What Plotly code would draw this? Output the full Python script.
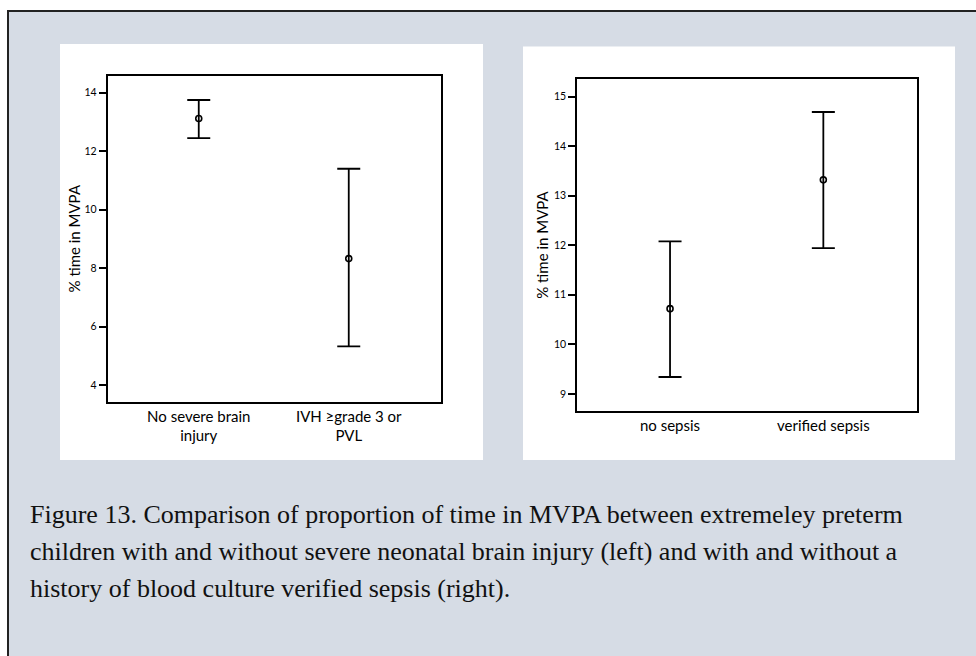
import plotly.graph_objects as go

W, H = 976, 656

# ---- data ----
left_categories = ["No severe brain<br>injury", "IVH ≥grade 3 or<br>PVL"]
left_mean = [13.12, 8.33]
left_upper = [13.75, 11.40]
left_lower = [12.45, 5.33]

right_categories = ["no sepsis", "verified sepsis"]
right_mean = [10.72, 13.32]
right_upper = [12.08, 14.69]
right_lower = [9.34, 11.94]

left_ticks = [4, 6, 8, 10, 12, 14]
right_ticks = [9, 10, 11, 12, 13, 14, 15]

y_title = "% time in MVPA"
caption_lines = [
    "Figure 13. Comparison of proportion of time in MVPA between extremeley preterm",
    "children with and without severe neonatal brain injury (left) and with and without a",
    "history of blood culture verified sepsis (right).",
]

FONT = "Lato"
BG = "#d6dce5"


def fx(p):
    return p / W


def fy(p):
    return 1 - p / H


fig = go.Figure()

for cats, mean, up, lo, xa, ya in [
    (left_categories, left_mean, left_upper, left_lower, "x", "y"),
    (right_categories, right_mean, right_upper, right_lower, "x2", "y2"),
]:
    fig.add_trace(go.Scatter(
        x=list(range(len(cats))), y=mean, xaxis=xa, yaxis=ya,
        mode="markers",
        marker=dict(symbol="circle-open", size=6, color="black",
                    line=dict(width=1.6, color="black")),
        error_y=dict(type="data", symmetric=False,
                     array=[u - m for u, m in zip(up, mean)],
                     arrayminus=[m - l for m, l in zip(mean, lo)],
                     color="black", thickness=1.8, width=11.5),
        showlegend=False, hoverinfo="skip",
    ))

axis_common = dict(showline=True, mirror=True, linecolor="black", linewidth=2,
                   showgrid=False, zeroline=False)

fig.update_layout(
    width=W, height=H, autosize=False,
    margin=dict(l=0, r=0, t=0, b=0),
    paper_bgcolor="white", plot_bgcolor="white",
    font=dict(family=FONT, color="black"),
    xaxis=dict(domain=[fx(107.7), fx(441)], range=[-0.607, 1.615],
               tickmode="array", tickvals=[0, 1], ticktext=left_categories,
               ticks="", tickfont=dict(size=15), anchor="y", **axis_common),
    yaxis=dict(domain=[fy(401.7), fy(75.7)], range=[3.44, 14.58],
               tickmode="array", tickvals=left_ticks,
               ticks="outside", ticklen=7, tickwidth=1.5, tickcolor="black",
               tickfont=dict(size=10.5), anchor="x",
               title=dict(text=y_title, font=dict(size=15), standoff=0),
               **axis_common),
    xaxis2=dict(domain=[fx(577.3), fx(916.7)], range=[-0.605, 1.609],
                tickmode="array", tickvals=[0, 1], ticktext=right_categories,
                ticks="", tickfont=dict(size=15), anchor="y2", **axis_common),
    yaxis2=dict(domain=[fy(410.7), fy(79.3)], range=[8.66, 15.35],
                tickmode="array", tickvals=right_ticks,
                ticks="outside", ticklen=7, tickwidth=1.5, tickcolor="black",
                tickfont=dict(size=10.5), anchor="x2",
                title=dict(text=y_title, font=dict(size=15), standoff=2),
                **axis_common),
)

shapes = [
    # outer framed background
    dict(type="rect", xref="paper", yref="paper", layer="below",
         x0=fx(8), x1=fx(990), y0=fy(670), y1=fy(11),
         fillcolor=BG, line=dict(color="#222222", width=2)),
    # white panels
    dict(type="rect", xref="paper", yref="paper", layer="below",
         x0=fx(60), x1=fx(483), y0=fy(460), y1=fy(44),
         fillcolor="white", line=dict(width=0)),
    dict(type="rect", xref="paper", yref="paper", layer="below",
         x0=fx(523), x1=fx(955), y0=fy(460), y1=fy(46.5),
         fillcolor="white", line=dict(width=0)),
]
fig.update_layout(shapes=shapes)

baselines = [522, 559, 596]
for line, b in zip(caption_lines, baselines):
    fig.add_annotation(
        xref="paper", yref="paper", x=fx(28), y=fy(b - 8),
        xanchor="left", yanchor="middle", showarrow=False,
        text=line, align="left",
        font=dict(family="Liberation Serif", size=26, color="#111111"),
    )

fig.write_html("out.html", config={"displayModeBar": False},
               post_script="document.body.style.margin='0px';")
